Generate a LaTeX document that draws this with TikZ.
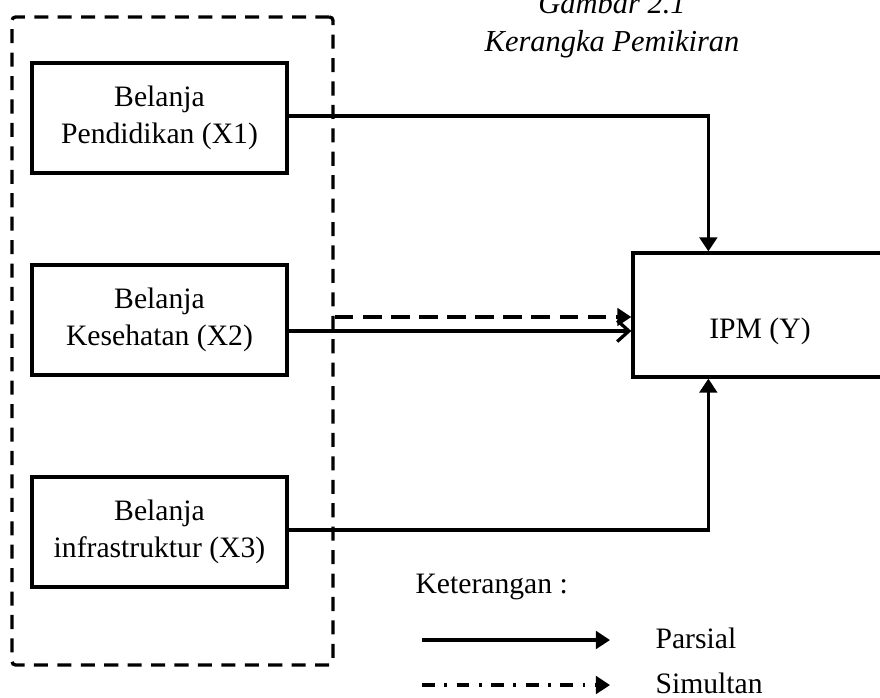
\documentclass[tikz,border=0pt]{standalone}
\usepackage{fontspec}
\setmainfont{Liberation Serif}
\usetikzlibrary{arrows.meta,calc}

\begin{document}
\begin{tikzpicture}[x=0.03cm,y=-0.03cm,line width=2.8pt,
    every node/.style={font=\fontsize{25.3}{32}\selectfont},
    varbox/.style={rectangle,draw=black,line width=2.8pt,minimum width=7.65cm,minimum height=3.3cm,align=center},
    partial/.style={-{Triangle[length=12pt,width=15pt]}},
    simul/.style={dash pattern=on 16pt off 8pt,-{Triangle[length=12pt,width=15pt]}},
    legtext/.style={anchor=west}]
        \useasboundingbox (0,0) rectangle (880,697);
        % variables
        \node (grp) [rectangle,draw=black,dash pattern=on 12pt off 8pt,rounded corners=3pt,minimum width=9.63cm,minimum height=19.44cm] at (172.5,341) {};
        \node (x1) [varbox] at (159.5,118) {Belanja\\Pendidikan (X1)};
        \node (x2) [varbox] at (159.5,320) {Belanja\\Kesehatan (X2)};
        \node (x3) [varbox] at (159.5,532) {Belanja\\infrastruktur (X3)};
        \node (ipm) [rectangle,draw=black,line width=2.8pt,minimum width=7.56cm,minimum height=3.72cm] at (759,315) {};
        \node (ipmtext) at (760,331) {IPM (Y)};
        \node (title) [font=\fontsize{26}{32}\selectfont\itshape,align=center] at (612,25) {Gambar 2.1\\Kerangka Pemikiran};
        % connectors
        \coordinate (ipmtop) at ($(ipm.north west)+(77,0)$);
        \coordinate (ipmbot) at ($(ipm.south west)+(77,0)$);
        \draw [partial] (x1.east |- 0,116) -| (ipmtop);
        \draw [partial] (x3.east |- 0,530) -| (ipmbot);
        \draw [-{Straight Barb[length=10pt,width=18pt]}] (x2.east |- 0,331) -- (ipm.west |- 0,331);
        \draw [simul] (grp.east |- 0,317) -- (ipm.west |- 0,317);
        % legend
        \node (ket) [legtext] at (410,587) {Keterangan :};
        \coordinate (ls1) at (422,640);
        \coordinate (le1) at (610,640);
        \coordinate (ls2) at (422,685);
        \coordinate (le2) at (610,685);
        \draw [partial] (ls1) -- (le1);
        \draw [dash pattern=on 11pt off 8pt on 2.5pt off 8pt,-{Triangle[length=12pt,width=15pt]}] (ls2) -- (le2);
        \node (parsial) [legtext] at (650,638) {Parsial};
        \node (simultan) [legtext] at (650,683) {Simultan};
\end{tikzpicture}
\end{document}
